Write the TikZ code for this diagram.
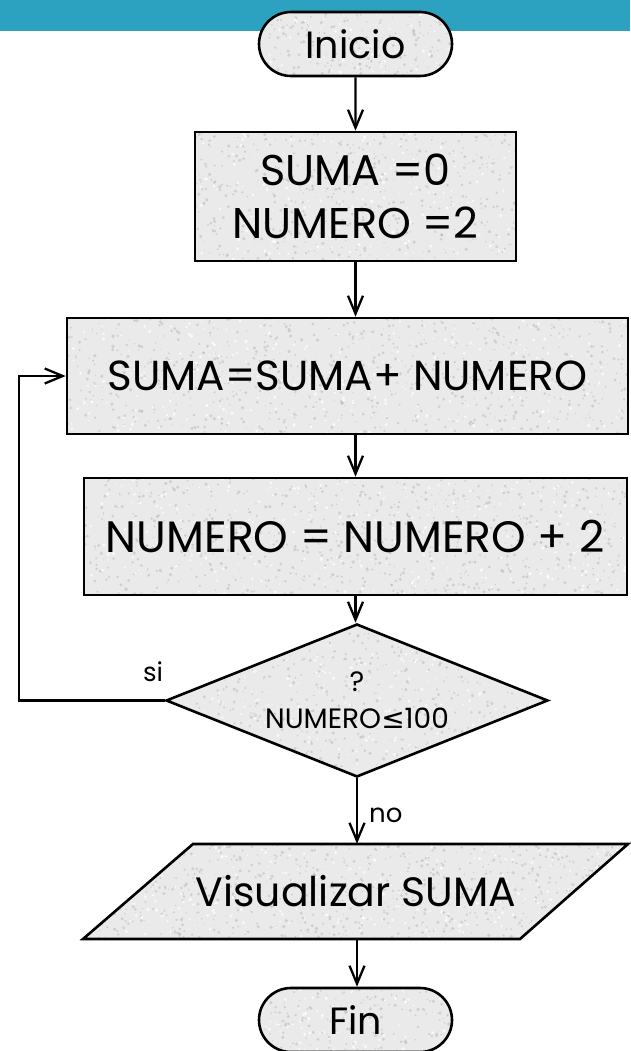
\documentclass[tikz,border=0pt]{standalone}
\usepackage{fontspec}
\setmainfont{Poppins}
\newfontfamily\symfont{DejaVu Sans}
\usetikzlibrary{arrows.meta,shapes.geometric,shapes.misc}

\definecolor{barblue}{RGB}{44,161,192}
\definecolor{paper}{RGB}{234,234,234}
\definecolor{fleck}{RGB}{185,185,185}

% random flecks over the current path picture, giving a stone-paper fill
\newcommand\flecks[1]{%
  \pgfpointanchor{path picture bounding box}{south west}\pgfgetlastxy{\fxa}{\fya}%
  \pgfpointanchor{path picture bounding box}{north east}\pgfgetlastxy{\fxb}{\fyb}%
  \foreach \k in {1,...,#1}{%
    \pgfmathsetmacro\px{\fxa+rnd*(\fxb-\fxa)}%
    \pgfmathsetmacro\py{\fya+rnd*(\fyb-\fya)}%
    \pgfmathsetmacro\pr{0.5+1.3*rnd}%
    \pgfmathsetmacro\pw{rnd}%
    \ifdim\pw pt<0.3pt
      \fill[white,opacity=0.8] (\px pt,\py pt) circle (\pr pt);
    \else
      \fill[fleck,opacity=0.55] (\px pt,\py pt) circle (\pr pt);
    \fi
  }}

\begin{document}
\pgfmathsetseed{7}
\begin{tikzpicture}[x=1pt,y=-1pt,
  stone/.style={fill=paper,path picture={\flecks{#1}}},
  box/.style={draw=black,line width=2.6pt,inner sep=0pt,
    font=\fontsize{44}{53}\selectfont,align=center},
  term/.style={box,rounded rectangle,minimum width=193pt,minimum height=64pt,
    font=\fontsize{38}{46}\selectfont},
  flow/.style={line width=2.3pt,-{Straight Barb[length=18pt,width=15pt]}},
  lbl/.style={inner sep=0pt,font=\fontsize{26}{30}\selectfont}
]
\useasboundingbox (0,0) rectangle (630,1051);
% title band
\fill[barblue] (0,0) rectangle (630,31);

% start
\node[term,stone=260] (inicio) at (355.5,44) {Inicio};

% initialisation
\node[box,stone=700,minimum width=321pt,minimum height=129pt,
  font=\fontsize{43}{53}\selectfont] (init) at (355.5,196.5)
  {SUMA =0\\NUMERO =2};

% accumulate
\node[box,stone=1100,minimum width=561pt,minimum height=116pt,
  font=\fontsize{42}{50}\selectfont] (suma) at (347.5,376)
  {SUMA=SUMA+ NUMERO};

% increment
\node[box,stone=1100,minimum width=543pt,minimum height=117pt] (num) at (355.5,536.5)
  {NUMERO = NUMERO + 2};

% test
\node[box,stone=900,diamond,aspect=2.5,minimum width=382pt,minimum height=153pt,
  font=\fontsize{28}{37}\selectfont] (dec) at (357,700.5)
  {?\\NUMERO{\symfont\char"2264}100};

% output (parallelogram)
\coordinate (v1) at (193,844);
\coordinate (v2) at (628,844);
\coordinate (v3) at (520,939);
\coordinate (v4) at (83,939);
\path[stone=1100] (v1) -- (v2) -- (v3) -- (v4) -- cycle;
\draw[line width=2.6pt,line join=miter] (v1) -- (v2) -- (v3) -- (v4) -- cycle;
\node[inner sep=0pt,minimum width=300pt,minimum height=95pt,
  font=\fontsize{41}{50}\selectfont] (vis) at (356,891.5) {Visualizar SUMA};

% end
\node[term,stone=260] (fin) at (355.5,1020) {Fin};

% connectors
\draw[flow] (inicio) -- (init);
\draw[flow] (init.south) -- (init.south |- suma.north);
\draw[flow] (init.south |- suma.south) -- (init.south |- num.north);
\draw[flow] (num.south) -- (num.south |- dec.north);
\draw[flow] (dec.south) -- (dec.south |- vis.north);
\draw[flow] (vis.south -| dec.south) -- (fin.north -| dec.south);

% loop back
\coordinate (lb) at (19,700.5);
\coordinate (lt) at (19,376);
\draw[flow] (dec.west) -- (lb) -- (lt) -- (suma.west);

% branch labels
\node[lbl] (si) at (153,672) {si};
\node[lbl,anchor=west] (no) at (369,815) {no};
\end{tikzpicture}
\end{document}
